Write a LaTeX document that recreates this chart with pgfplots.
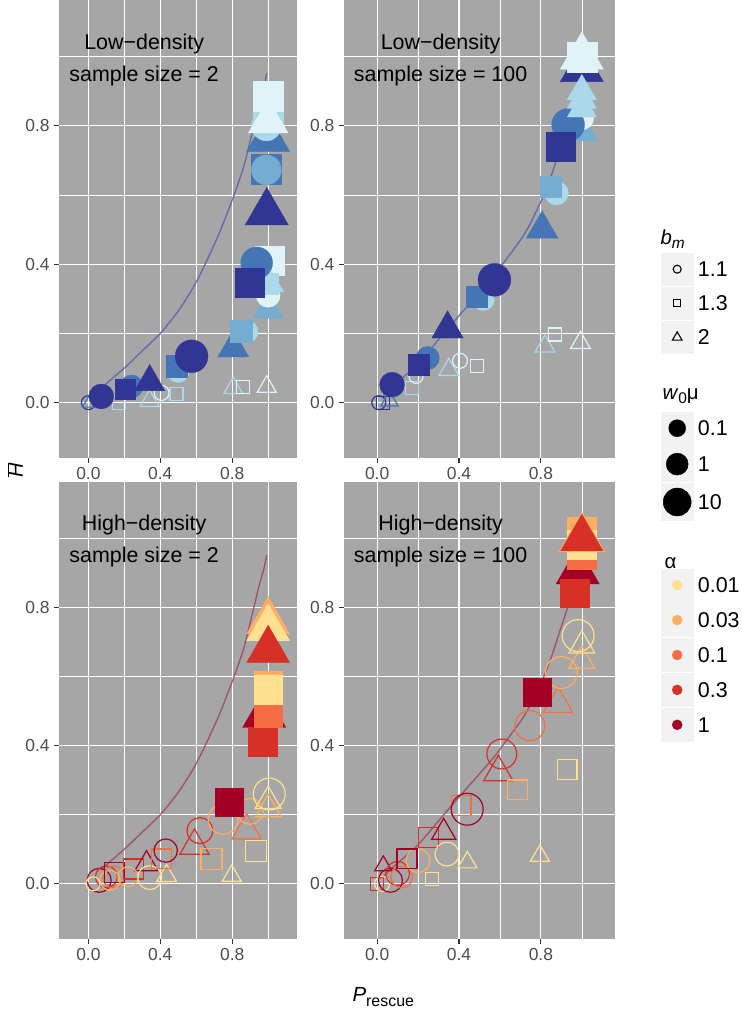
\documentclass[border=0pt]{standalone}
\usepackage{pgfplots}
\pgfplotsset{compat=1.18}
\usepackage{fontspec}
\setmainfont{Liberation Sans}
\definecolor{b1}{HTML}{313695}
\definecolor{b2}{HTML}{4575B4}
\definecolor{b3}{HTML}{74ADD1}
\definecolor{b4}{HTML}{ABD9E9}
\definecolor{b5}{HTML}{E0F3F8}
\definecolor{r1}{HTML}{A50026}
\definecolor{r2}{HTML}{D73027}
\definecolor{r3}{HTML}{F46D43}
\definecolor{r4}{HTML}{FDAE61}
\definecolor{r5}{HTML}{FEE090}
\definecolor{panelgray}{HTML}{A6A6A6}
\definecolor{gray30}{HTML}{4D4D4D}
\definecolor{gray20}{HTML}{333333}
\definecolor{keybg}{HTML}{F2F2F2}
\definecolor{lineblue}{HTML}{5C62A8}
\definecolor{linered}{HTML}{A04860}
\pgfplotsset{
  fm/.style n args={3}{only marks, mark=#1, mark size=#3, color=#2, mark options={solid, draw=#2, fill=#2, line width=0.3pt}},
  om/.style n args={3}{only marks, mark=#1, mark size=#3, color=#2, mark options={solid, draw=#2, fill=none, line width=1.2pt}},
  panel/.style={scale only axis, anchor=north west,
    xmin=-0.162, xmax=1.162, ymin=-0.16, ymax=1.164,
    axis background/.style={fill=panelgray},
    axis line style={draw=none},
    xtick={0,0.4,0.8}, ytick={0,0.4,0.8},
    xticklabels={0.0,0.4,0.8}, yticklabels={0.0,0.4,0.8},
    minor xtick={0.2,0.6,1.0}, minor ytick={0.2,0.6,1.0},
    grid=both,
    major grid style={white, line width=1.1bp},
    minor grid style={white, line width=0.55bp},
    tick align=outside, tick pos=left,
    major tick length=5bp, minor tick length=0pt,
    tick style={gray20, line width=1.1bp},
    ticklabel style={font=\fontsize{17.5}{17.5}\selectfont, text=gray30, inner sep=4.5bp},
  },
  lcurve/.style={no marks, smooth, tension=0.4, color=#1, line width=1.4bp, opacity=0.85},
  leg/.style={hide axis, scale only axis, anchor=north west, width=10bp, height=10bp,
    xmin=0, xmax=1, ymin=0, ymax=1,
    legend cell align=left,
    legend style={at={(0,1)}, anchor=north west, draw=none, fill=none,
      inner sep=0pt, outer sep=0pt, row sep=1.5bp, column sep=4.5bp,
      font=\fontsize{21.5}{21.5}\selectfont,
      nodes={inner sep=0pt, text depth=0pt}}},
}
\newcommand\keybox[1]{\fill[keybg] (0bp,-#1bp) rectangle (32bp,#1bp);}
\begin{document}
\begin{tikzpicture}
\useasboundingbox (0,0) rectangle (742bp,-1009bp);
% ---------------- top left
\begin{axis}[panel, at={(59.3bp,0bp)}, width=238bp, height=458bp]
\addplot[om={o}{b1}{7}] coordinates {(0.0,0.0)};
\addplot[om={triangle}{b2}{9}] coordinates {(0.01,0.0)};
\addplot[om={square}{b4}{6.5}] coordinates {(0.17,0.0)};
\addplot[om={triangle}{b4}{11}] coordinates {(0.34,0.005)};
\addplot[om={o}{b5}{7.5}] coordinates {(0.407,0.028)};
\addplot[om={square}{b4}{6.5}] coordinates {(0.49,0.025)};
\addplot[om={triangle}{b4}{11}] coordinates {(0.806,0.042)};
\addplot[om={square}{b5}{6.5}] coordinates {(0.861,0.046)};
\addplot[om={triangle}{b5}{11}] coordinates {(0.992,0.046)};
\addplot[fm={*}{b2}{11.5}] coordinates {(0.24,0.047)};
\addplot[fm={square*}{b1}{10}] coordinates {(0.202,0.038)};
\addplot[fm={*}{b1}{12.5}] coordinates {(0.072,0.018)};
\addplot[fm={triangle*}{b1}{17.5}] coordinates {(0.341,0.06)};
\addplot[fm={*}{b4}{11}] coordinates {(0.50,0.09)};
\addplot[fm={square*}{b2}{10.8}] coordinates {(0.49,0.105)};
\addplot[fm={*}{b1}{16.5}] coordinates {(0.574,0.134)};
\addplot[fm={triangle*}{b2}{18}] coordinates {(0.806,0.158)};
\addplot[fm={*}{b4}{11.5}] coordinates {(0.88,0.205)};
\addplot[fm={square*}{b3}{11}] coordinates {(0.852,0.206)};
\addplot[fm={triangle*}{b3}{18}] coordinates {(1.0,0.27)};
\addplot[fm={square*}{b5}{14.5}] coordinates {(1.01,0.41)};
\addplot[fm={*}{b5}{12}] coordinates {(1.0,0.31)};
\addplot[fm={square*}{b4}{10.5}] coordinates {(1.0,0.345)};
\addplot[fm={triangle*}{b4}{14}] coordinates {(1.02,0.34)};
\addplot[fm={*}{b2}{16}] coordinates {(0.936,0.404)};
\addplot[fm={square*}{b1}{14.5}] coordinates {(0.899,0.346)};
\addplot[fm={triangle*}{b1}{25}] coordinates {(0.992,0.55)};
\addplot[fm={square*}{b2}{15}] coordinates {(0.99,0.675)};
\addplot[fm={*}{b3}{15}] coordinates {(0.99,0.673)};
\addplot[fm={triangle*}{b2}{25}] coordinates {(1.0,0.762)};
\addplot[fm={*}{b4}{15}] coordinates {(0.99,0.80)};
\addplot[fm={square*}{b4}{15}] coordinates {(1.0,0.83)};
\addplot[fm={triangle*}{b5}{23}] coordinates {(1.0,0.813)};
\addplot[fm={square*}{b5}{15}] coordinates {(1.0,0.885)};
\addplot[lcurve=lineblue] coordinates {(0.07,0.04) (0.10,0.055) (0.21,0.105) (0.30,0.15) (0.40,0.20) (0.50,0.265) (0.58,0.33) (0.64,0.39) (0.72,0.48) (0.77,0.545) (0.81,0.60) (0.86,0.675) (0.89,0.735) (0.92,0.80) (0.95,0.865) (0.975,0.91) (0.992,0.952)};
\node[anchor=base, font=\fontsize{21.5}{21.5}\selectfont] at (axis cs:0.31,1.022) {Low−density};
\node[anchor=base, font=\fontsize{21.5}{21.5}\selectfont] at (axis cs:0.31,0.929) {sample size = 2};
\end{axis}
% ---------------- top right
\begin{axis}[panel, at={(344bp,0bp)}, width=271bp, height=458bp]
\addplot[om={o}{b1}{7}] coordinates {(0.008,0.0)};
\addplot[om={square}{b1}{6.5}] coordinates {(0.03,0.0)};
\addplot[om={triangle}{b2}{10}] coordinates {(0.06,0.005)};
\addplot[om={square}{b4}{6.5}] coordinates {(0.17,0.042)};
\addplot[om={o}{b5}{7}] coordinates {(0.19,0.076)};
\addplot[om={triangle}{b4}{11.5}] coordinates {(0.35,0.095)};
\addplot[om={o}{b5}{7.5}] coordinates {(0.405,0.121)};
\addplot[om={square}{b5}{6.5}] coordinates {(0.487,0.105)};
\addplot[om={triangle}{b4}{11.5}] coordinates {(0.82,0.163)};
\addplot[om={square}{b5}{6.5}] coordinates {(0.868,0.197)};
\addplot[om={triangle}{b5}{11.5}] coordinates {(0.993,0.173)};
\addplot[fm={*}{b1}{12.5}] coordinates {(0.073,0.052)};
\addplot[fm={*}{b2}{11.7}] coordinates {(0.247,0.129)};
\addplot[fm={square*}{b1}{10.3}] coordinates {(0.203,0.11)};
\addplot[fm={triangle*}{b1}{18.3}] coordinates {(0.344,0.213)};
\addplot[fm={*}{b4}{11}] coordinates {(0.519,0.298)};
\addplot[fm={square*}{b2}{10.5}] coordinates {(0.487,0.307)};
\addplot[fm={*}{b1}{16.5}] coordinates {(0.573,0.355)};
\addplot[fm={triangle*}{b2}{18.3}] coordinates {(0.806,0.502)};
\addplot[fm={*}{b4}{12}] coordinates {(0.876,0.606)};
\addplot[fm={square*}{b3}{10.5}] coordinates {(0.849,0.625)};
\addplot[fm={triangle*}{b3}{16}] coordinates {(1.01,0.78)};
\addplot[fm={*}{b5}{12}] coordinates {(1.0,0.823)};
\addplot[fm={*}{b2}{16.5}] coordinates {(0.933,0.803)};
\addplot[fm={square*}{b1}{14.5}] coordinates {(0.897,0.741)};
\addplot[fm={triangle*}{b1}{25}] coordinates {(1.0,0.964)};
\addplot[fm={triangle*}{b4}{17}] coordinates {(1.0,0.85)};
\addplot[fm={triangle*}{b4}{17}] coordinates {(1.0,0.875)};
\addplot[fm={triangle*}{b4}{17}] coordinates {(1.0,0.90)};
\addplot[fm={triangle*}{b5}{25}] coordinates {(1.0,1.0)};
\addplot[fm={square*}{b5}{15}] coordinates {(1.0,1.0)};
\addplot[lcurve=lineblue] coordinates {(0.03,0.02) (0.065,0.042) (0.195,0.11) (0.341,0.211) (0.45,0.285) (0.568,0.365) (0.625,0.41) (0.70,0.47) (0.746,0.515) (0.81,0.595) (0.85,0.655) (0.892,0.731) (0.93,0.80) (0.96,0.865) (0.982,0.92) (0.998,0.962)};
\node[anchor=base, font=\fontsize{21.5}{21.5}\selectfont] at (axis cs:0.31,1.022) {Low−density};
\node[anchor=base, font=\fontsize{21.5}{21.5}\selectfont] at (axis cs:0.31,0.929) {sample size = 100};
\end{axis}
% ---------------- bottom left
\begin{axis}[panel, at={(59.3bp,-482bp)}, width=238bp, height=457bp]
\addplot[om={o}{r1}{12}] coordinates {(0.06,0.01)};
\addplot[om={o}{r2}{11}] coordinates {(0.10,0.02)};
\addplot[om={o}{r3}{11}] coordinates {(0.14,0.02)};
\addplot[om={o}{r4}{10}] coordinates {(0.12,0.01)};
\addplot[om={o}{r5}{7}] coordinates {(0.026,0.0)};
\addplot[om={square}{r1}{10}] coordinates {(0.146,0.033)};
\addplot[om={square}{r2}{10}] coordinates {(0.249,0.043)};
\addplot[om={triangle}{r1}{13.5}] coordinates {(0.323,0.057)};
\addplot[om={o}{r4}{10}] coordinates {(0.22,0.02)};
\addplot[om={o}{r5}{12}] coordinates {(0.341,0.018)};
\addplot[om={triangle}{r5}{11.5}] coordinates {(0.435,0.023)};
\addplot[om={square}{r3}{10}] coordinates {(0.407,0.072)};
\addplot[om={o}{r1}{11.7}] coordinates {(0.43,0.096)};
\addplot[om={triangle}{r2}{17}] coordinates {(0.59,0.11)};
\addplot[om={o}{r2}{13}] coordinates {(0.62,0.154)};
\addplot[om={square}{r4}{10.5}] coordinates {(0.685,0.072)};
\addplot[om={o}{r4}{15}] coordinates {(0.749,0.187)};
\addplot[om={triangle}{r3}{17}] coordinates {(0.88,0.154)};
\addplot[om={o}{r4}{13}] coordinates {(0.90,0.21)};
\addplot[om={square}{r5}{10.5}] coordinates {(0.932,0.096)};
\addplot[om={triangle}{r5}{11}] coordinates {(0.797,0.023)};
\addplot[om={triangle}{r4}{15}] coordinates {(1.0,0.216)};
\addplot[om={triangle}{r5}{15}] coordinates {(1.0,0.24)};
\addplot[om={o}{r5}{16}] coordinates {(1.006,0.26)};
\addplot[fm={square*}{r1}{14}] coordinates {(0.783,0.236)};
\addplot[fm={triangle*}{r4}{25}] coordinates {(1.0,0.76)};
\addplot[fm={triangle*}{r5}{25}] coordinates {(1.0,0.74)};
\addplot[fm={triangle*}{r2}{25}] coordinates {(1.0,0.677)};
\addplot[fm={triangle*}{r1}{25}] coordinates {(0.978,0.489)};
\addplot[fm={square*}{r2}{14.5}] coordinates {(0.968,0.413)};
\addplot[fm={square*}{r3}{14.5}] coordinates {(1.0,0.495)};
\addplot[fm={square*}{r4}{14.5}] coordinates {(1.0,0.575)};
\addplot[fm={square*}{r5}{14.5}] coordinates {(1.0,0.562)};
\addplot[lcurve=linered] coordinates {(0.07,0.04) (0.10,0.055) (0.21,0.105) (0.30,0.15) (0.40,0.20) (0.50,0.265) (0.58,0.33) (0.64,0.39) (0.72,0.48) (0.77,0.545) (0.81,0.60) (0.86,0.675) (0.89,0.735) (0.92,0.80) (0.95,0.865) (0.975,0.91) (0.992,0.952)};
\node[anchor=base, font=\fontsize{21.5}{21.5}\selectfont] at (axis cs:0.31,1.023) {High−density};
\node[anchor=base, font=\fontsize{21.5}{21.5}\selectfont] at (axis cs:0.31,0.931) {sample size = 2};
\end{axis}
% ---------------- bottom right
\begin{axis}[panel, at={(344bp,-482bp)}, width=271bp, height=457bp]
\addplot[om={square}{r2}{6.5}] coordinates {(0.0,0.0)};
\addplot[om={o}{r5}{7.5}] coordinates {(0.024,0.0)};
\addplot[om={o}{r1}{12}] coordinates {(0.065,0.01)};
\addplot[om={triangle}{r1}{10}] coordinates {(0.03,0.052)};
\addplot[om={o}{r2}{12}] coordinates {(0.10,0.03)};
\addplot[om={o}{r3}{11}] coordinates {(0.12,0.02)};
\addplot[om={o}{r4}{12}] coordinates {(0.20,0.067)};
\addplot[om={square}{r5}{6.5}] coordinates {(0.268,0.013)};
\addplot[om={square}{r1}{10}] coordinates {(0.146,0.072)};
\addplot[om={square}{r2}{10}] coordinates {(0.251,0.134)};
\addplot[om={triangle}{r1}{14}] coordinates {(0.325,0.149)};
\addplot[om={o}{r5}{12}] coordinates {(0.341,0.086)};
\addplot[om={triangle}{r5}{11}] coordinates {(0.441,0.062)};
\addplot[om={square}{r3}{10}] coordinates {(0.41,0.226)};
\addplot[om={o}{r1}{16}] coordinates {(0.44,0.216)};
\addplot[om={triangle}{r2}{17}] coordinates {(0.592,0.323)};
\addplot[om={o}{r2}{15}] coordinates {(0.609,0.376)};
\addplot[om={square}{r4}{10}] coordinates {(0.685,0.272)};
\addplot[om={o}{r3}{15}] coordinates {(0.746,0.458)};
\addplot[om={triangle}{r3}{17}] coordinates {(0.884,0.521)};
\addplot[om={o}{r4}{16}] coordinates {(0.90,0.612)};
\addplot[om={square}{r5}{10}] coordinates {(0.928,0.332)};
\addplot[om={triangle}{r5}{11}] coordinates {(0.795,0.081)};
\addplot[om={triangle}{r4}{15}] coordinates {(1.0,0.646)};
\addplot[om={triangle}{r5}{15}] coordinates {(1.0,0.69)};
\addplot[om={o}{r5}{16}] coordinates {(0.982,0.719)};
\addplot[fm={square*}{r1}{14}] coordinates {(0.782,0.555)};
\addplot[fm={triangle*}{r1}{25}] coordinates {(0.98,0.905)};
\addplot[fm={square*}{r2}{14.5}] coordinates {(0.965,0.842)};
\addplot[fm={square*}{r4}{14.5}] coordinates {(1.0,1.02)};
\addplot[fm={square*}{r3}{14.5}] coordinates {(1.0,0.952)};
\addplot[fm={square*}{r5}{14.5}] coordinates {(1.0,0.982)};
\addplot[fm={triangle*}{r4}{26.5}] coordinates {(1.0,1.0)};
\addplot[fm={triangle*}{r2}{24.5}] coordinates {(1.0,1.0)};
\addplot[lcurve=linered] coordinates {(0.03,0.02) (0.065,0.042) (0.195,0.11) (0.341,0.211) (0.45,0.285) (0.568,0.365) (0.625,0.41) (0.70,0.47) (0.746,0.515) (0.81,0.595) (0.85,0.655) (0.892,0.731) (0.93,0.80) (0.96,0.865) (0.982,0.915) (0.998,0.94)};
\node[anchor=base, font=\fontsize{21.5}{21.5}\selectfont] at (axis cs:0.31,1.023) {High−density};
\node[anchor=base, font=\fontsize{21.5}{21.5}\selectfont] at (axis cs:0.31,0.931) {sample size = 100};
\end{axis}
% ---------------- axis titles
\node[rotate=90, font=\fontsize{20}{20}\selectfont] at (15bp,-470bp) {$\overline{\mbox{\itshape H}}$};
\node[anchor=base west, font=\fontsize{20.5}{20.5}\selectfont] at (349bp,-1001.7bp) {\itshape P\upshape\raisebox{-5bp}{\fontsize{16}{16}\selectfont rescue}};
% ---------------- legend titles
\node[anchor=base west, font=\fontsize{20.5}{20.5}\selectfont] at (657bp,-244bp) {\textit{b}\raisebox{-4bp}{\fontsize{15.5}{15.5}\selectfont\textit{m}}};
\node[anchor=base west, font=\fontsize{20.5}{20.5}\selectfont] at (659bp,-399bp) {\textit{w}\raisebox{-4bp}{\fontsize{15.5}{15.5}\selectfont 0}μ};
\node[anchor=base west, font=\fontsize{20.5}{20.5}\selectfont] at (661bp,-568bp) {α};
% ---------------- legends
\begin{axis}[leg, at={(661bp,-253bp)}]
\addlegendimage{legend image code/.code={\keybox{16}\draw[black, line width=1.1bp] (16bp,0bp) circle (4bp);}}
\addlegendentry{1.1}
\addlegendimage{legend image code/.code={\keybox{16}\draw[black, line width=1.1bp] (12.3bp,-3.7bp) rectangle (19.7bp,3.7bp);}}
\addlegendentry{1.3}
\addlegendimage{legend image code/.code={\keybox{16}\draw[black, line width=1.1bp] (16bp,5.2bp) -- (11.2bp,-3.1bp) -- (20.8bp,-3.1bp) -- cycle;}}
\addlegendentry{2}
\end{axis}
\begin{axis}[leg, at={(661bp,-411.5bp)}]
\addlegendimage{legend image code/.code={\keybox{16.5}\fill[black] (16bp,0bp) circle (8.5bp);}}
\addlegendentry{0.1}
\addlegendimage{legend image code/.code={\keybox{17.5}\fill[black] (16bp,0bp) circle (11bp);}}
\addlegendentry{1}
\addlegendimage{legend image code/.code={\keybox{18.5}\fill[black] (16bp,0bp) circle (14bp);}}
\addlegendentry{10}
\end{axis}
\begin{axis}[leg, at={(661bp,-568.5bp)}]
\addlegendimage{legend image code/.code={\keybox{16.5}\fill[r5] (16bp,0bp) circle (5bp);}}
\addlegendentry{0.01}
\addlegendimage{legend image code/.code={\keybox{16.5}\fill[r4] (16bp,0bp) circle (5bp);}}
\addlegendentry{0.03}
\addlegendimage{legend image code/.code={\keybox{16.5}\fill[r3] (16bp,0bp) circle (5bp);}}
\addlegendentry{0.1}
\addlegendimage{legend image code/.code={\keybox{16.5}\fill[r2] (16bp,0bp) circle (5bp);}}
\addlegendentry{0.3}
\addlegendimage{legend image code/.code={\keybox{16.5}\fill[r1] (16bp,0bp) circle (5bp);}}
\addlegendentry{1}
\end{axis}
\end{tikzpicture}
\end{document}
